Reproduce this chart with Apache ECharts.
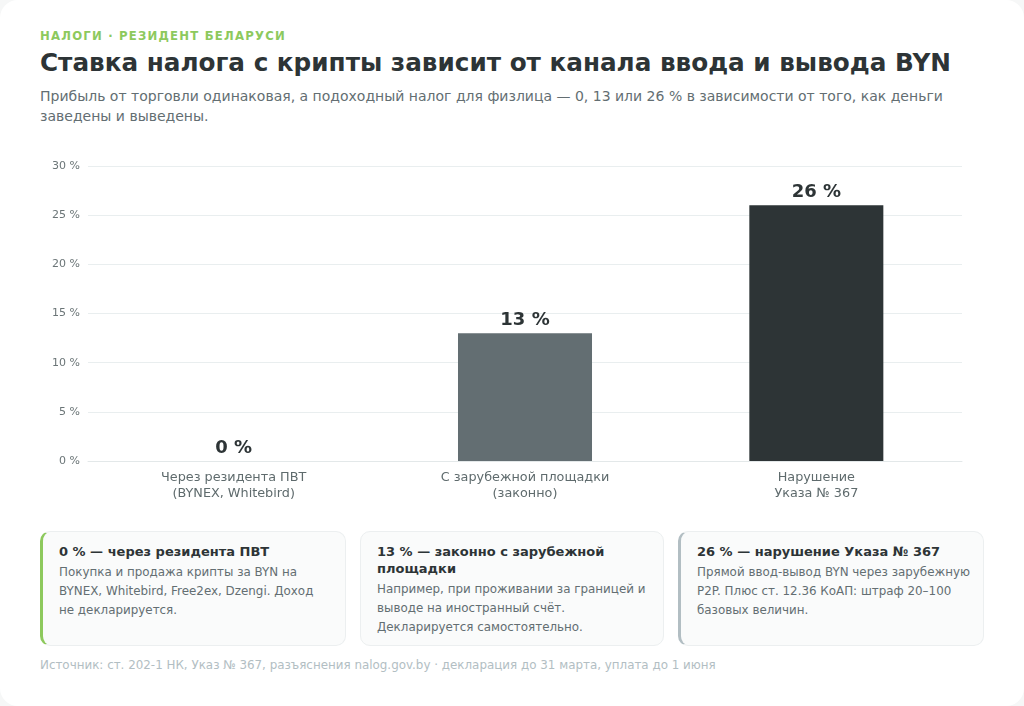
<!DOCTYPE html>
<html lang="ru">
<head>
<meta charset="utf-8">
<title>Ставка налога с крипты</title>
<script src="https://cdn.jsdelivr.net/npm/echarts@6/dist/echarts.min.js"></script>
<style>
	html, body { margin: 0; padding: 0; background: #f6f7f7; font-family: "DejaVu Sans", sans-serif; }
	.page {
		position: relative; width: 1024px; height: 706px; background: #ffffff;
		border-radius: 18px; overflow: hidden;
	}
	.kicker { position: absolute; left: 40px; top: 29px; font-size: 11.7px; font-weight: bold; letter-spacing: 1.2px; color: #8dc95d; }
	.title { position: absolute; left: 40px; top: 48px; font-size: 24.7px; font-weight: bold; color: #2d3436; }
	.sub { position: absolute; left: 40px; top: 86px; width: 950px; font-size: 14px; line-height: 20px; color: #636e72; }
	#chart { position: absolute; left: 0; top: 140px; width: 1024px; height: 380px; }
	.cards { position: absolute; left: 40px; top: 531px; width: 944px; display: flex; gap: 14px; }
	.card {
		flex: 1; height: 115px; box-sizing: border-box; background: #fafbfb; border: 1px solid #eceff0;
		border-radius: 10px; padding: 11px 8px 0 16px;
	}
	.card.green { border-left: 3px solid #8dc95d; }
	.card.grey { border-left: 3px solid #b2bec3; }
	.card h4 { margin: 0 0 3px 0; font-size: 13px; line-height: 17px; color: #2d3436; }
	.card p { margin: 0; font-size: 11.9px; line-height: 19px; color: #636e72; }
	.foot { position: absolute; left: 40px; top: 658px; font-size: 11.9px; color: #b2bec3; }
</style>
</head>
<body>
<div class="page">
	<div class="kicker">НАЛОГИ · РЕЗИДЕНТ БЕЛАРУСИ</div>
	<div class="title">Ставка налога с крипты зависит от канала ввода и вывода BYN</div>
	<div class="sub">Прибыль от торговли одинаковая, а подоходный налог для физлица — 0, 13 или 26 % в зависимости от того, как деньги заведены и выведены.</div>
	<div id="chart"></div>
	<div class="cards">
		<div class="card green">
			<h4>0 % — через резидента ПВТ</h4>
			<p>Покупка и продажа крипты за BYN на<br>BYNEX, Whitebird, Free2ex, Dzengi. Доход<br>не декларируется.</p>
		</div>
		<div class="card">
			<h4>13 % — законно с зарубежной площадки</h4>
			<p>Например, при проживании за границей и выводе на иностранный счёт. Декларируется самостоятельно.</p>
		</div>
		<div class="card grey">
			<h4>26 % — нарушение Указа № 367</h4>
			<p>Прямой ввод-вывод BYN через зарубежную P2P. Плюс ст. 12.36 КоАП: штраф 20–100 базовых величин.</p>
		</div>
	</div>
	<div class="foot">Источник: ст. 202-1 НК, Указ № 367, разъяснения nalog.gov.by · декларация до 31 марта, уплата до 1 июня</div>
</div>
<script>
	// данные
	var categories = ["Через резидента ПВТ\n(BYNEX, Whitebird)", "С зарубежной площадки\n(законно)", "Нарушение\nУказа № 367"];
	var rates = [0, 13, 26];
	var barColors = ["#8dc95d", "#636e72", "#2d3436"];

	var chart = echarts.init(document.getElementById("chart"));
	var option = {
		animation: false,
		textStyle: { fontFamily: "DejaVu Sans" },
		grid: { left: 88, right: 62, top: 26, bottom: 59 },
		xAxis: {
			type: "category",
			data: categories,
			axisTick: { show: false },
			axisLine: { lineStyle: { color: "#e3e8e9" } },
			axisLabel: { color: "#5f6b6d", fontSize: 12.8, lineHeight: 16, margin: 9 }
		},
		yAxis: {
			type: "value",
			min: 0,
			max: 30,
			interval: 5,
			axisLabel: { formatter: "{value} %", color: "#6b7577", fontSize: 11, margin: 8 },
			splitLine: { lineStyle: { color: "#e9eeef" } },
			axisLine: { show: false },
			axisTick: { show: false }
		},
		series: [{
			type: "bar",
			barWidth: "46%",
			data: rates.map(function (v, i) {
				return { value: v, itemStyle: { color: barColors[i] } };
			}),
			label: {
				show: true,
				position: "top",
				distance: 4,
				formatter: "{c} %",
				fontSize: 18,
				fontWeight: "bold",
				color: "#2d3436"
			}
		}]
	};
	chart.setOption(option);
</script>
</body>
</html>
